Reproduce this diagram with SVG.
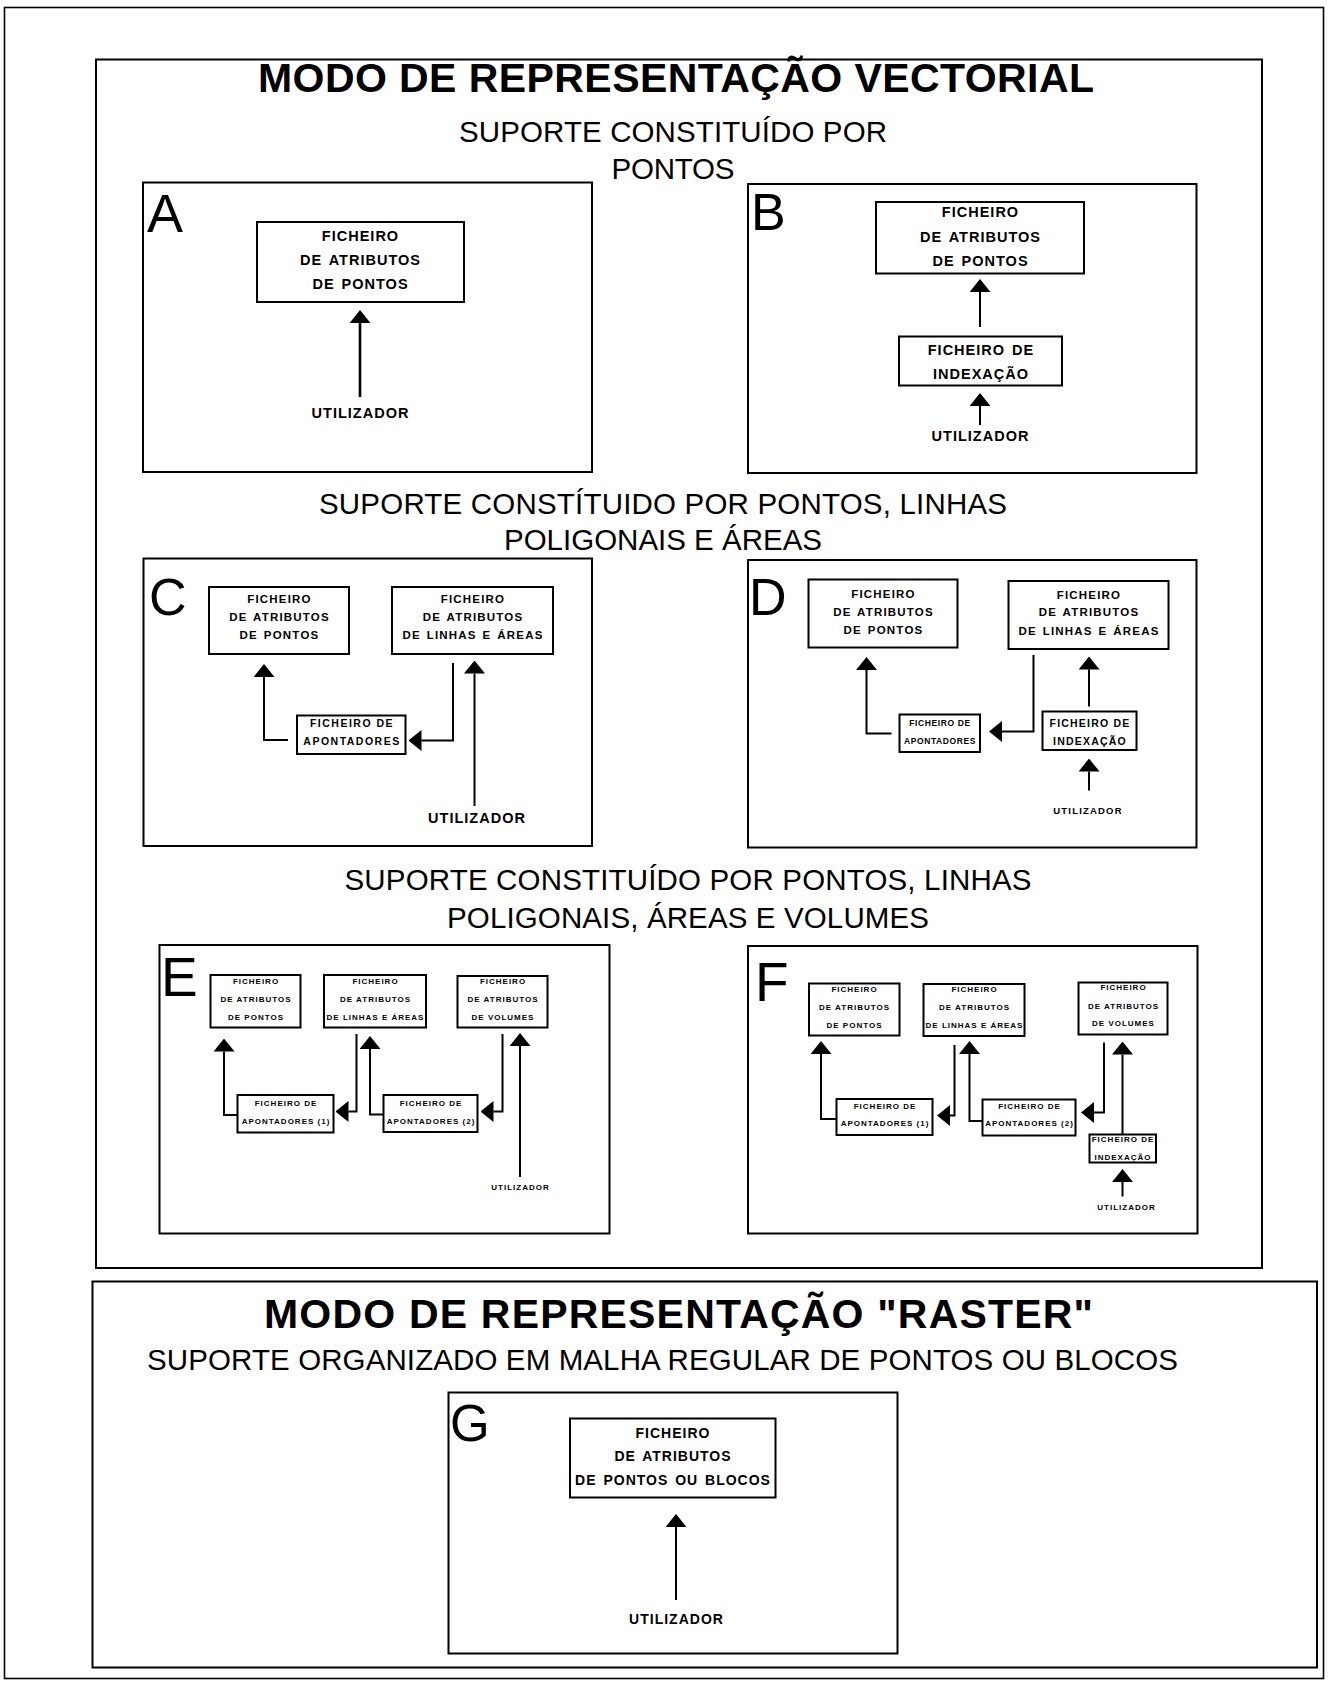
<svg xmlns="http://www.w3.org/2000/svg" width="1331" height="1684" viewBox="0 0 1331 1684">
  <style>
    text { font-family: "Liberation Sans", Arial, Helvetica, sans-serif; fill: #000; }
    .panel { fill: none; stroke: #000; stroke-width: 2; }
    .frame { fill: none; stroke: #000; stroke-width: 1.6; }
    .box { fill: #fff; stroke: #000; stroke-width: 2; }
    .title { font-size: 41px; font-weight: bold; text-anchor: middle; }
    .sub { font-size: 29.5px; text-anchor: middle; }
    .letter { font-size: 53px; }
    .t1 { font-size: 14.5px; font-weight: bold; letter-spacing: 1px; word-spacing: 2px; text-anchor: middle; }
    .t1g { font-size: 14px; font-weight: bold; letter-spacing: 1px; word-spacing: 2px; text-anchor: middle; }
    .t2 { font-size: 11.5px; font-weight: bold; letter-spacing: 1.2px; word-spacing: 1.5px; text-anchor: middle; }
    .t2a { font-size: 10.5px; font-weight: bold; letter-spacing: 1.5px; text-anchor: middle; }
    .t2b { font-size: 8.5px; font-weight: bold; letter-spacing: 0.6px; text-anchor: middle; }
    .t2c { font-size: 10.5px; font-weight: bold; letter-spacing: 1.2px; text-anchor: middle; }
    .t2u { font-size: 9.5px; font-weight: bold; letter-spacing: 1.2px; text-anchor: middle; }
    .t3 { font-size: 8px; font-weight: bold; letter-spacing: 1px; text-anchor: middle; }
    .link { fill: none; stroke: #000; stroke-width: 2; marker-end: url(#head); }
  </style>
  <defs>
    <marker id="head" viewBox="0 0 13 21" refX="0" refY="10.5" markerWidth="13" markerHeight="21" markerUnits="userSpaceOnUse" orient="auto">
      <path d="M0,0 L13,10.5 L0,21 Z" fill="#000"/>
    </marker>
  </defs>

  <rect width="1331" height="1684" fill="#fff"/>

  <!-- page frame and the two mode panels -->
  <rect class="frame" x="4.5" y="7.5" width="1319" height="1671"/>
  <rect class="panel" x="96" y="59.5" width="1166" height="1208.5"/>
  <rect class="panel" x="92.5" y="1281.5" width="1224.5" height="386"/>

  <!-- headings -->
  <g id="headings">
    <text class="title" x="676" y="92" textLength="836">MODO DE REPRESENTAÇÃO VECTORIAL</text>
    <text class="sub" x="673" y="142" textLength="428">SUPORTE CONSTITUÍDO POR</text>
    <text class="sub" x="673" y="179" textLength="123">PONTOS</text>
    <text class="sub" x="663" y="514" textLength="688">SUPORTE CONSTÍTUIDO POR PONTOS, LINHAS</text>
    <text class="sub" x="663" y="550" textLength="318">POLIGONAIS E ÁREAS</text>
    <text class="sub" x="688" y="890" textLength="687">SUPORTE CONSTITUÍDO POR PONTOS, LINHAS</text>
    <text class="sub" x="688" y="927.5" textLength="482">POLIGONAIS, ÁREAS E VOLUMES</text>
    <text class="title" x="678.5" y="1328" textLength="829">MODO DE REPRESENTAÇÃO "RASTER"</text>
    <text class="sub" x="662.5" y="1370" textLength="1031">SUPORTE ORGANIZADO EM MALHA REGULAR DE PONTOS OU BLOCOS</text>
  </g>

  <!-- case panels -->
  <g id="panel-A">
    <rect class="panel" x="143" y="182.5" width="449" height="289.5"/>
    <text class="letter" x="147" y="232" style="font-size:54px">A</text>
  </g>
  <g id="panel-B">
    <rect class="panel" x="748" y="184" width="448.5" height="289"/>
    <text class="letter" x="751" y="230" style="font-size:52px">B</text>
  </g>
  <g id="panel-C">
    <rect class="panel" x="143.5" y="558.5" width="448.5" height="287.5"/>
    <text class="letter" x="149" y="615" style="font-size:52px">C</text>
  </g>
  <g id="panel-D">
    <rect class="panel" x="748" y="560" width="448.5" height="287.5"/>
    <text class="letter" x="749" y="615" style="font-size:52px">D</text>
  </g>
  <g id="panel-E">
    <rect class="panel" x="159.5" y="945" width="450" height="288.5"/>
    <text class="letter" x="161" y="996" style="font-size:55px">E</text>
  </g>
  <g id="panel-F">
    <rect class="panel" x="748" y="946" width="449.5" height="287.5"/>
    <text class="letter" x="755" y="1001" style="font-size:55px">F</text>
  </g>
  <g id="panel-G">
    <rect class="panel" x="448.5" y="1392.5" width="449" height="261"/>
    <text class="letter" x="450" y="1441" style="font-size:51px">G</text>
  </g>

  <!-- A -->
  <g id="a-atributos">
    <rect class="box" x="257" y="222" width="207" height="80"/>
    <text class="t1" x="360.5" y="241">FICHEIRO</text>
    <text class="t1" x="360.5" y="265">DE ATRIBUTOS</text>
    <text class="t1" x="360.5" y="289">DE PONTOS</text>
  </g>
  <g id="a-utilizador"><text class="t1" x="360.5" y="418">UTILIZADOR</text></g>

  <!-- B -->
  <g id="b-atributos">
    <rect class="box" x="876" y="202" width="208" height="71.5"/>
    <text class="t1" x="980.5" y="217">FICHEIRO</text>
    <text class="t1" x="980.5" y="241.5">DE ATRIBUTOS</text>
    <text class="t1" x="980.5" y="265.5">DE PONTOS</text>
  </g>
  <g id="b-indexacao">
    <rect class="box" x="899" y="336.5" width="163" height="49"/>
    <text class="t1" x="981" y="355">FICHEIRO DE</text>
    <text class="t1" x="981" y="379">INDEXAÇÃO</text>
  </g>
  <g id="b-utilizador"><text class="t1" x="980.5" y="441">UTILIZADOR</text></g>

  <!-- C -->
  <g id="c-pontos">
    <rect class="box" x="209" y="587" width="140" height="67"/>
    <text class="t2" x="279.5" y="603">FICHEIRO</text>
    <text class="t2" x="279.5" y="621">DE ATRIBUTOS</text>
    <text class="t2" x="279.5" y="639">DE PONTOS</text>
  </g>
  <g id="c-linhas">
    <rect class="box" x="392" y="587" width="161" height="67"/>
    <text class="t2" x="473" y="603">FICHEIRO</text>
    <text class="t2" x="473" y="621">DE ATRIBUTOS</text>
    <text class="t2" x="473" y="639">DE LINHAS E ÁREAS</text>
  </g>
  <g id="c-apontadores">
    <rect class="box" x="297" y="715.5" width="108.5" height="38.5"/>
    <text class="t2a" x="352" y="727">FICHEIRO DE</text>
    <text class="t2a" x="352" y="745">APONTADORES</text>
  </g>
  <g id="c-utilizador"><text class="t1" x="477" y="822.5">UTILIZADOR</text></g>

  <!-- D -->
  <g id="d-pontos">
    <rect class="box" x="808.5" y="579.5" width="149" height="68"/>
    <text class="t2" x="883.5" y="598">FICHEIRO</text>
    <text class="t2" x="883.5" y="616">DE ATRIBUTOS</text>
    <text class="t2" x="883.5" y="634">DE PONTOS</text>
  </g>
  <g id="d-linhas">
    <rect class="box" x="1008.5" y="581" width="160" height="68"/>
    <text class="t2" x="1089" y="598.5">FICHEIRO</text>
    <text class="t2" x="1089" y="616">DE ATRIBUTOS</text>
    <text class="t2" x="1089" y="634.5">DE LINHAS E ÁREAS</text>
  </g>
  <g id="d-apontadores">
    <rect class="box" x="899.5" y="714.5" width="80.5" height="37.5"/>
    <text class="t2b" x="940" y="726">FICHEIRO DE</text>
    <text class="t2b" x="940" y="744">APONTADORES</text>
  </g>
  <g id="d-indexacao">
    <rect class="box" x="1042.5" y="711.5" width="94" height="38.5"/>
    <text class="t2c" x="1090" y="727">FICHEIRO DE</text>
    <text class="t2c" x="1090" y="744.5">INDEXAÇÃO</text>
  </g>
  <g id="d-utilizador"><text class="t2u" x="1088" y="813.5">UTILIZADOR</text></g>

  <!-- E -->
  <g id="e-pontos">
    <rect class="box" x="210.5" y="975" width="90" height="52.5"/>
    <text class="t3" x="256" y="983.5">FICHEIRO</text>
    <text class="t3" x="256" y="1001.5">DE ATRIBUTOS</text>
    <text class="t3" x="256" y="1019.5">DE PONTOS</text>
  </g>
  <g id="e-linhas">
    <rect class="box" x="324" y="975" width="102" height="52.5"/>
    <text class="t3" x="375.5" y="983.5">FICHEIRO</text>
    <text class="t3" x="375.5" y="1001.5">DE ATRIBUTOS</text>
    <text class="t3" x="375.5" y="1019.5">DE LINHAS E ÁREAS</text>
  </g>
  <g id="e-volumes">
    <rect class="box" x="457.5" y="976" width="90" height="51.5"/>
    <text class="t3" x="503" y="983.5">FICHEIRO</text>
    <text class="t3" x="503" y="1001.5">DE ATRIBUTOS</text>
    <text class="t3" x="503" y="1019.5">DE VOLUMES</text>
  </g>
  <g id="e-apontadores-1">
    <rect class="box" x="237.5" y="1095" width="96" height="37.5"/>
    <text class="t3" x="286" y="1105.5">FICHEIRO DE</text>
    <text class="t3" x="286" y="1123.5">APONTADORES (1)</text>
  </g>
  <g id="e-apontadores-2">
    <rect class="box" x="383.5" y="1095" width="94" height="37"/>
    <text class="t3" x="431" y="1105.5">FICHEIRO DE</text>
    <text class="t3" x="431" y="1123.5">APONTADORES (2)</text>
  </g>
  <g id="e-utilizador"><text class="t3" x="520.5" y="1190">UTILIZADOR</text></g>

  <!-- F -->
  <g id="f-pontos">
    <rect class="box" x="809" y="983.5" width="90.5" height="52"/>
    <text class="t3" x="854.5" y="992">FICHEIRO</text>
    <text class="t3" x="854.5" y="1010">DE ATRIBUTOS</text>
    <text class="t3" x="854.5" y="1027.5">DE PONTOS</text>
  </g>
  <g id="f-linhas">
    <rect class="box" x="923.5" y="984" width="101" height="52"/>
    <text class="t3" x="974.5" y="992">FICHEIRO</text>
    <text class="t3" x="974.5" y="1010">DE ATRIBUTOS</text>
    <text class="t3" x="974.5" y="1027.5">DE LINHAS E ÁREAS</text>
  </g>
  <g id="f-volumes">
    <rect class="box" x="1078.5" y="982.5" width="89" height="52"/>
    <text class="t3" x="1123.5" y="990">FICHEIRO</text>
    <text class="t3" x="1123.5" y="1008.5">DE ATRIBUTOS</text>
    <text class="t3" x="1123.5" y="1026">DE VOLUMES</text>
  </g>
  <g id="f-apontadores-1">
    <rect class="box" x="836.5" y="1099" width="96" height="36"/>
    <text class="t3" x="885" y="1108.5">FICHEIRO DE</text>
    <text class="t3" x="885" y="1126">APONTADORES (1)</text>
  </g>
  <g id="f-apontadores-2">
    <rect class="box" x="982.5" y="1099.5" width="93" height="36"/>
    <text class="t3" x="1029.5" y="1108.5">FICHEIRO DE</text>
    <text class="t3" x="1029.5" y="1126">APONTADORES (2)</text>
  </g>
  <g id="f-indexacao">
    <rect class="box" x="1089.5" y="1134.5" width="66.5" height="28"/>
    <text class="t3" x="1123" y="1142">FICHEIRO DE</text>
    <text class="t3" x="1123" y="1160">INDEXAÇÃO</text>
  </g>
  <g id="f-utilizador"><text class="t3" x="1126.5" y="1209.5">UTILIZADOR</text></g>

  <!-- G -->
  <g id="g-atributos">
    <rect class="box" x="570" y="1418.5" width="205.5" height="79"/>
    <text class="t1g" x="673" y="1437.5">FICHEIRO</text>
    <text class="t1g" x="673" y="1460.5">DE ATRIBUTOS</text>
    <text class="t1g" x="673" y="1484.5">DE PONTOS OU BLOCOS</text>
  </g>
  <g id="g-utilizador"><text class="t1g" x="676.5" y="1624">UTILIZADOR</text></g>

  <!-- connectors: each path ends at the base of its arrowhead -->
  <g id="connectors">
    <path class="link" d="M360,397 V323" style="stroke-width:2.6"/>

    <path class="link" d="M980,327 V292"/>
    <path class="link" d="M980,425 V406"/>

    <path class="link" d="M288,740 H264 V677"/>
    <path class="link" d="M453,663 V740.5 H421.5"/>
    <path class="link" d="M474.5,806 V673.5"/>

    <path class="link" d="M891.5,733.5 H866.5 V670"/>
    <path class="link" d="M1033.5,655 V731.5 H1002"/>
    <path class="link" d="M1089,706.5 V669.5"/>
    <path class="link" d="M1089,790.5 V771.5"/>

    <path class="link" d="M237.5,1115 H224 V1051.5"/>
    <path class="link" d="M356.5,1034 V1111.5 H348.5"/>
    <path class="link" d="M383.5,1114.5 H370 V1049"/>
    <path class="link" d="M502.5,1034 V1111.5 H493.5"/>
    <path class="link" d="M520,1177 V1046"/>

    <path class="link" d="M836.5,1119 H821 V1054"/>
    <path class="link" d="M954.5,1045 V1115.5 H950"/>
    <path class="link" d="M982.5,1121 H969.5 V1054"/>
    <path class="link" d="M1104,1042.5 V1112.5 H1094"/>
    <path class="link" d="M1122.5,1134.5 V1054.5"/>
    <path class="link" d="M1122.5,1196.5 V1182"/>

    <path class="link" d="M676,1600 V1527"/>
  </g>
</svg>
